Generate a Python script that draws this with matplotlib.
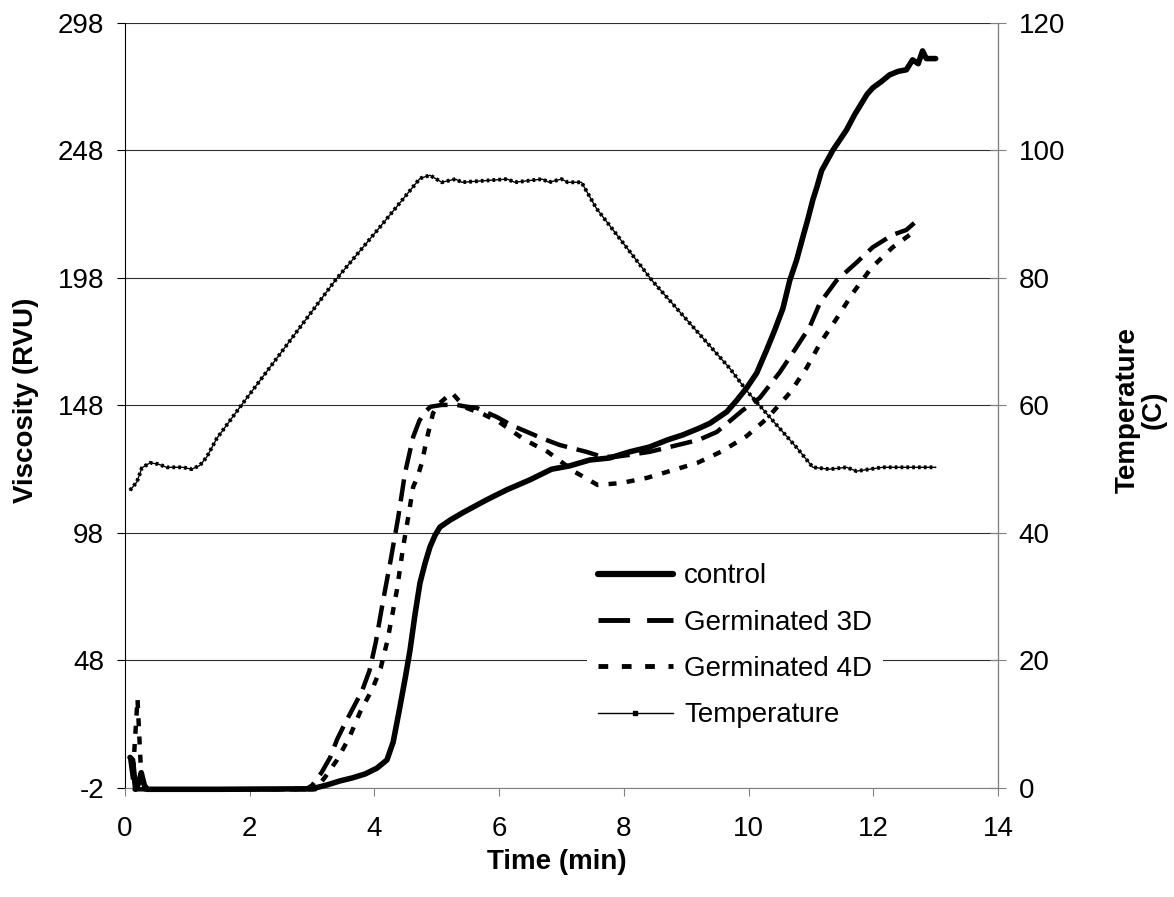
import matplotlib.pyplot as plt
from matplotlib.lines import Line2D

plt.rcParams['font.family'] = ['Liberation Sans', 'DejaVu Sans']
plt.rcParams['axes.unicode_minus'] = False

# ================= DATA =================
# RVA pasting curves: viscosity (RVU) vs time (min)
control_t = [0.08, 0.12, 0.17, 0.22, 0.26, 0.31, 0.36, 1.5, 3.0, 3.24, 3.45, 3.65,
             3.85, 4.04, 4.2, 4.3, 4.41, 4.5, 4.57, 4.65, 4.73, 4.81, 4.89, 4.97,
             5.05, 5.21, 5.42, 5.8, 6.12, 6.49, 6.84, 7.13, 7.45, 7.77, 8.09, 8.41,
             8.7, 8.94, 9.2, 9.38, 9.65, 9.81, 9.97, 10.13, 10.29, 10.42, 10.55,
             10.66, 10.77, 10.87, 10.95, 11.03, 11.1, 11.17, 11.26, 11.35, 11.46,
             11.57, 11.7, 11.8, 11.9, 11.99, 12.13, 12.26, 12.4, 12.53, 12.63,
             12.72, 12.79, 12.85, 12.92, 13.0]
control_v = [10, 9, -2.5, 0, 4, -1, -2.5, -2.5, -2.3, -0.8, 0.8, 2,
             3.5, 5.8, 9, 16, 30, 42, 52, 66, 78.4, 86, 92.5, 97,
             100.3, 103, 106, 111, 114.9, 118.8, 123, 124.3, 126.6, 127.4, 129.8, 131.7,
             134.5, 136.4, 139, 141, 145.5, 150, 154.9, 160.7, 169.8, 177.6, 186,
             197, 205, 214, 221, 228.6, 234, 240, 244, 248, 252,
             256, 262, 266, 270, 272.5, 275, 277.6, 279, 279.6, 283.5,
             282, 287, 284, 284, 284]

germ3_t = [0.08, 0.15, 1.5, 2.9, 3.0, 3.15, 3.29, 3.4, 3.52, 3.65, 3.8, 3.92,
           4.02, 4.14, 4.25, 4.38, 4.49, 4.62, 4.72, 4.81, 4.9, 5.08, 5.32, 5.48,
           5.64, 5.96, 6.22, 6.7, 6.97, 7.4, 7.66, 7.9, 8.09, 8.41, 8.7, 9.2,
           9.49, 9.9, 10.18, 10.5, 10.74, 10.98, 11.14, 11.41, 11.73, 11.99,
           12.31, 12.53, 12.66, 12.74]
germ3_v = [10, -2.5, -2.5, -2.5, -1, 4, 10, 17, 23, 29, 36, 44,
           55, 71.7, 86, 104, 121.5, 135.6, 142, 145.5, 147.5, 148.2, 148.2, 147.5,
           147, 143.5, 140, 135, 132.5, 129.8, 127.8, 128, 128.6, 129.8, 131.5, 134.5,
           137.6, 146, 151, 161, 169.8, 178.8, 188, 197, 204, 210,
           214.9, 216.8, 219.6, 217.6]

germ4_t = [0.13, 0.2, 0.27, 1.5, 3.05, 3.2, 3.4, 3.6, 3.77, 3.97, 4.1, 4.21,
           4.36, 4.46, 4.54, 4.62, 4.69, 4.76, 4.84, 4.94, 5.05, 5.24, 5.35, 5.48,
           5.75, 6.0, 6.41, 6.78, 7.21, 7.58, 7.96, 8.37, 8.7, 9.18, 9.57, 9.97,
           10.3, 10.66, 10.93, 11.15, 11.41, 11.67, 11.97, 12.31, 12.69]
germ4_v = [5, 33, -2.5, -2.5, -2.5, 2, 9, 18, 27.8, 37, 45, 56,
           75.6, 92.5, 104, 116, 120, 125.5, 135, 145, 149, 153, 150, 147,
           144.5, 141.5, 134.5, 129.8, 122, 116.8, 117.6, 119.6, 122, 125.5, 130, 136,
           143, 152.9, 162.7, 172.5, 182, 192, 202, 210, 216.8]

# heating / cooling profile (C)
temp_t = [0.08, 0.19, 0.27, 0.4, 0.53, 0.67, 0.93, 1.07, 1.2, 1.31, 1.47, 1.84,
          2.48, 3.37, 4.09, 4.73, 4.89, 5.08, 5.3, 5.4, 6.13, 6.25, 6.69, 6.8,
          7.0, 7.1, 7.32, 7.56, 8.46, 9.21, 9.7, 9.97, 10.39, 10.77, 11.03, 11.3,
          11.57, 11.73, 12.15, 12.74, 13.0]
temp_c = [46.7, 48, 50.2, 51, 50.8, 50.3, 50.3, 50.0, 50.6, 51.9, 54.8, 59.7,
          68.0, 79.6, 88, 95.6, 96.1, 95, 95.5, 95, 95.5, 95, 95.5, 95,
          95.5, 95, 95, 90.9, 79.5, 71.2, 65.8, 62.3, 57.6, 53.4, 50.3, 50,
          50.3, 49.7, 50.3, 50.3, 50.3]

labels = ["control", "Germinated 3D", "Germinated 4D", "Temperature"]
visc_ticks = [-2, 48, 98, 148, 198, 248, 298]
temp_ticks = [0, 20, 40, 60, 80, 100, 120]
time_ticks = [0, 2, 4, 6, 8, 10, 12, 14]

# ================= PLOTTING =================
fig = plt.figure(figsize=(11.74, 8.97), dpi=100)
ax = fig.add_axes([0.1065, 0.1215, 0.7436, 0.853])
ax2 = ax.twinx()

ax.plot(control_t, control_v, color="black", lw=4, solid_capstyle="round",
        solid_joinstyle="round", clip_on=False, zorder=4)
ax.plot(germ3_t, germ3_v, color="black", lw=3.2, dashes=(5, 2.2),
        clip_on=False, zorder=3)
ax.plot(germ4_t, germ4_v, color="black", lw=3.2, dashes=(1.8, 2.3),
        clip_on=False, zorder=3)

# temperature: thin line with dense point markers
ax2.plot(temp_t, temp_c, color="black", lw=1.0)
ax2.plot(temp_t, temp_c, color="black", lw=2.8, dashes=(0.7, 0.8))

ax.set_xlim(0, 14)
ax.set_ylim(-2, 298)
ax2.set_ylim(0, 120)
ax.set_xticks(time_ticks)
ax.set_yticks(visc_ticks)
ax2.set_yticks(temp_ticks)

ax.grid(axis="y", color="#303030", lw=0.8)
ax.set_axisbelow(True)

for a in (ax, ax2):
    a.spines["top"].set_visible(False)
ax.spines["left"].set_color("black")
ax.spines["bottom"].set_color("#808080")
ax2.spines["right"].set_color("#808080")
ax2.spines["left"].set_visible(False)
ax2.spines["bottom"].set_visible(False)

ax.tick_params(axis="y", direction="out", length=6, width=0.8, labelsize=20, pad=9)
ax.tick_params(axis="x", direction="out", length=6, width=0.8, color="#808080",
               labelsize=20, pad=14)
ax2.tick_params(axis="y", direction="inout", length=12, width=0.8, color="#808080",
                labelsize=20, pad=9)

fig.text(26 / 1174, 1 - 400 / 897, "Viscosity (RVU)", rotation=90, ha="center",
         va="center", fontsize=20, fontweight="bold")
fig.text(1141 / 1174, 1 - 410 / 897, "Temperature\n(C)", rotation=90, ha="center",
         va="center", fontsize=20, fontweight="bold", multialignment="center",
         linespacing=1.0)
fig.text(557 / 1174, 1 - 862 / 897, "Time (min)", ha="center", va="center",
         fontsize=20, fontweight="bold")

handles = [
    Line2D([], [], color="black", lw=4.5, solid_capstyle="round"),
    Line2D([], [], color="black", lw=3.5, dashes=(6.5, 3.5)),
    Line2D([], [], color="black", lw=3.5, dashes=(2, 2.8)),
    Line2D([], [], color="black", lw=1, marker="s", markersize=2.5),
]
leg = ax2.legend(handles, labels, loc="upper left", bbox_to_anchor=(0.529, 0.308),
                 fontsize=20, handlelength=2.7, handletextpad=0.4,
                 labelspacing=0.73, borderaxespad=0, borderpad=0.4,
                 frameon=True, fancybox=False, framealpha=1)
leg.get_frame().set_edgecolor("none")

fig.savefig("out.png", dpi=100)
